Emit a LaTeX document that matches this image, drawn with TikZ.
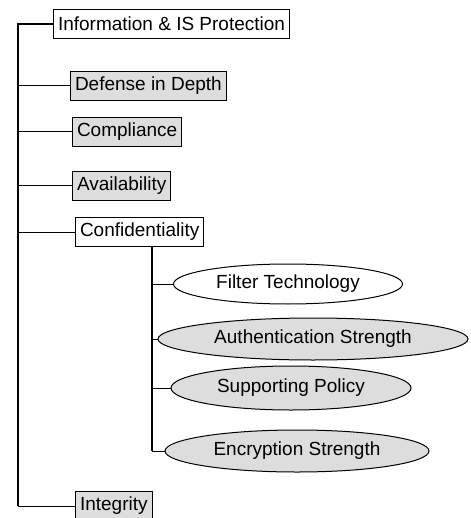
\documentclass[tikz,border=0pt]{standalone}
\usepackage{fontspec}
\setmainfont{Liberation Sans}
\tikzset{
  box/.style={draw, line width=1pt, fill=white, inner xsep=4.5pt, inner ysep=0pt, minimum height=29pt, anchor=west},
  greybox/.style={box, fill=gray!27},
  oval/.style={draw, ellipse, line width=1pt, fill=white, inner sep=0pt},
  greyoval/.style={oval, fill=gray!27},
  branch/.style={line width=1pt}
}
\usetikzlibrary{shapes.geometric}
\begin{document}
\begin{tikzpicture}[x=1pt, y=-1pt, font=\fontsize{19}{22}\selectfont]
  \useasboundingbox (0,0) rectangle (470,518);
  \begin{scope}
  \clip (0,0) rectangle (470,518);

  % Stamm
  \coordinate (trunk) at (18,24);
  \coordinate (trunkend) at (18,506);

  % Kategorien
  \node[box] (info) at (53,24) {Information \& IS Protection};
  \node[greybox] (defense) at (70,86) {Defense in Depth};
  \node[greybox] (compliance) at (72,132) {Compliance};
  \node[greybox] (avail) at (72,186) {Availability};
  \node[box] (confid) at (75,232) {Confidentiality};
  \node[greybox] (integ) at (75,506) {Integrity};

  % Unterpunkte der Vertraulichkeit
  \node[oval, minimum width=229pt, minimum height=40pt] (filter) at (288,284) {Filter Technology};
  \node[greyoval, minimum width=310pt, minimum height=42pt] (auth) at (313,339) {Authentication Strength};
  \node[greyoval, minimum width=240pt, minimum height=44pt] (policy) at (291,388) {Supporting Policy};
  \node[greyoval, minimum width=264pt, minimum height=42pt] (encrypt) at (297,451) {Encryption Strength};

  % Verbindungen
  \draw[line width=2pt] (info.west) -- (trunk) -- (trunkend);
  \draw[branch] (trunk |- defense.west) -- (defense.west);
  \draw[branch] (trunk |- compliance.west) -- (compliance.west);
  \draw[branch] (trunk |- avail.west) -- (avail.west);
  \draw[branch] (trunk |- confid.west) -- (confid.west);
  \draw[branch] (trunkend) -- (integ.west);

  % Unterbaum
  \coordinate (sub) at (152,247);
  \draw[line width=1.5pt] (sub) -- (sub |- encrypt.west);
  \foreach \n in {filter, auth, policy, encrypt}
    \draw[branch] (sub |- \n.west) -- (\n.west);
  \end{scope}
\end{tikzpicture}
\end{document}
